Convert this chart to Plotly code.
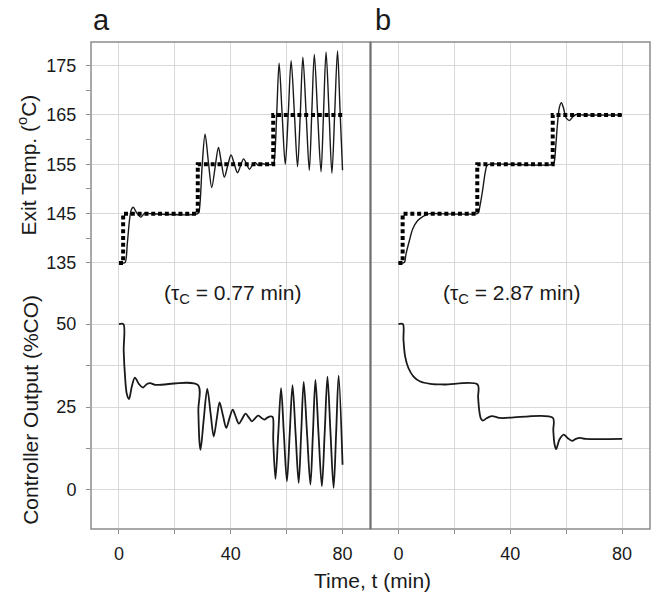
import plotly.graph_objects as go
from plotly.subplots import make_subplots

# ---------------- data ----------------
# set point (same in both panels)
t_sp = [0, 1.5, 1.5, 28.2, 28.2, 55.2, 55.2, 80]
sp = [135, 135, 145, 145, 155, 155, 165, 165]

# panel a, exit temperature (tau_c = 0.77 min)
t_pv_a = [0, 1.3, 2.2, 3.0, 3.9, 4.5, 5.1, 6.3, 7.8, 9.3, 11, 28.2,
          28.7, 29.8, 30.8, 32.0, 33.2, 34.4, 35.6, 36.6, 37.7, 38.9, 40.1,
          41.3, 42.4, 43.5, 44.6, 45.7, 46.7, 47.7, 48.7, 49.8, 51, 55.2,
          55.7, 56.5, 57.3, 58.4, 59.5, 60.6, 61.6, 62.8, 63.9, 64.9, 65.8,
          67.0, 68.1, 69.0, 69.9, 71.1, 72.3, 73.2, 74.1, 75.2, 76.2, 77.2,
          78.2, 79.1, 80]
pv_a = [135, 135, 135.1, 139.0, 144.3, 145.9, 146.3, 145.2, 144.3, 145.1, 145, 145,
        145.6, 155, 161.1, 155.5, 150.3, 154.4, 158.4, 155.5, 152.4, 154.7, 156.9,
        155.0, 153.3, 154.7, 156.1, 155.0, 154.0, 154.8, 155.4, 154.8, 155.1, 155,
        156.5, 166, 175.5, 165, 155.0, 165.5, 176.0, 165, 154.5, 165.5, 176.7,
        165, 153.8, 165.5, 177.3, 165, 153.5, 165.5, 177.8, 165, 153.2, 165.5,
        178.0, 166, 153.8]

# panel b, exit temperature (tau_c = 2.87 min)
t_pv_b = [0, 1.5, 2.2, 2.7, 3.9, 5.1, 6.9, 8.7, 11.1, 14, 28.2,
          28.6, 29.4, 30.1, 31.0, 31.6, 32.3, 40, 55.2,
          55.7, 56.3, 56.9, 57.6, 58.3, 59.0, 60.0, 61.2, 62.3, 63.6, 66, 80]
pv_b = [135, 135, 135.2, 136.8, 139.5, 141.9, 143.6, 144.4, 145, 145, 145,
        145.2, 147.3, 149.7, 153.2, 154.7, 155, 155, 155,
        155.4, 158.8, 163.2, 166.6, 167.5, 166.5, 164.4, 163.9, 164.6, 165.1, 165, 165]

# panel a, controller output
t_co_a = [0, 1.6, 1.7, 2.2, 2.8, 3.6, 4.6, 5.7, 7.1, 8.6, 9.9, 11.2, 13, 28.2,
          28.4, 28.8, 29.2, 30.3, 31.6, 32.8, 33.9, 35.0, 36.0, 37.2, 38.4,
          39.5, 40.7, 41.8, 42.9, 44.1, 45.3, 46.5, 47.6, 48.7, 49.8, 50.9,
          52.0, 53.1, 54.2, 55.0,
          55.2, 56.0, 57.0, 58.0, 59.0, 60.1, 61.1, 62.1, 63.2, 64.3, 65.2,
          66.1, 67.3, 68.5, 69.4, 70.3, 71.4, 72.6, 73.6, 74.6, 75.7, 76.8,
          77.7, 78.6, 80]
co_a = [50, 50, 42, 34, 29, 27.4, 31.2, 33.9, 32.0, 30.9, 31.9, 32.2, 31.7, 31.7,
        24, 14.5, 12.1, 21, 30.5, 23, 16.1, 21.5, 26.4, 22.5, 18.7,
        21.5, 24.2, 22, 20.0, 21.5, 23.0, 21.8, 20.7, 21.6, 22.4, 21.8,
        21.2, 21.8, 22.2, 22.0,
        15, 3.3, 17, 30.7, 17, 2.6, 17, 31.6, 17, 2.1, 17,
        32.6, 17, 1.6, 17, 33.2, 17, 1.1, 17, 34.2, 17, 0.6,
        17, 34.5, 7.6]

# panel b, controller output
t_co_b = [0, 1.6, 1.8, 2.4, 3.6, 5.4, 7.8, 11.4, 16.2, 28.3,
          28.5, 28.9, 29.5, 30.2, 31.5, 33, 34.1, 36.5, 40, 55.2,
          55.4, 55.8, 56.4, 57.6, 59.1, 60.6, 62.1, 63.5, 64.9, 67, 80]
co_b = [50, 50, 45.3, 40.2, 36.7, 34.2, 32.7, 32.0, 31.8, 31.8,
        28, 24, 21.5, 20.9, 21.6, 22.2, 22.2, 21.7, 21.8, 21.8,
        18, 14, 12.3, 15.2, 16.7, 15.6, 14.8, 15.4, 15.7, 15.4, 15.4]

x_ticks = [0, 40, 80]
x_minor = [20, 60]
temp_ticks = [135, 145, 155, 165, 175]
temp_minor = [140, 150, 160, 170]
co_ticks = [0, 25, 50]
co_minor = [12.5, 37.5]

FONT = 'Liberation Sans, Arial, sans-serif'
INK = '#1a1a1a'
GRID = '#d9d9d9'
FRAME = '#8c8c8c'

fig = make_subplots(rows=2, cols=2, horizontal_spacing=0, vertical_spacing=0)

# solid response lines then dotted set point on top
for col, (t, v) in enumerate([(t_pv_a, pv_a), (t_pv_b, pv_b)], start=1):
    fig.add_trace(go.Scatter(x=t, y=v, mode='lines',
                             line=dict(color=INK, width=1.4, shape='spline', smoothing=0.9)),
                  row=1, col=col)
    fig.add_trace(go.Scatter(x=t_sp, y=sp, mode='lines',
                             line=dict(color='black', width=4, dash='4px,2.8px')),
                  row=1, col=col)
for col, (t, v) in enumerate([(t_co_a, co_a), (t_co_b, co_b)], start=1):
    fig.add_trace(go.Scatter(x=t, y=v, mode='lines',
                             line=dict(color=INK, width=1.8, shape='spline', smoothing=0.9)),
                  row=2, col=col)

xsplit = 0.5
ysplit = 0.4825
tickfont = dict(family=FONT, size=18, color=INK)

for r in (1, 2):
    for c in (1, 2):
        fig.update_xaxes(range=[-10, 90], tickvals=x_ticks,
                         showgrid=True, gridcolor=GRID, gridwidth=1, zeroline=False,
                         showline=False, showticklabels=(r == 2),
                         ticks='outside' if r == 2 else '', ticklen=4, tickcolor=FRAME,
                         minor=dict(tickvals=x_minor, showgrid=True, gridcolor=GRID, gridwidth=1,
                                    ticks='outside' if r == 2 else '', ticklen=4, tickcolor=FRAME),
                         tickfont=tickfont, ticklabelstandoff=4,
                         domain=[0, xsplit] if c == 1 else [xsplit, 1],
                         row=r, col=c)
        if r == 1:
            fig.update_yaxes(range=[128.7, 179.8], tickvals=temp_ticks,
                             domain=[ysplit, 1], row=r, col=c,
                             minor=dict(tickvals=temp_minor, ticks='outside' if c == 1 else '',
                                        ticklen=4, tickcolor=FRAME, showgrid=False))
        else:
            fig.update_yaxes(range=[-11.8, 59.1], tickvals=co_ticks,
                             domain=[0, ysplit], row=r, col=c,
                             minor=dict(tickvals=co_minor, showgrid=True, gridcolor=GRID, gridwidth=1,
                                        ticks='outside' if c == 1 else '', ticklen=4, tickcolor=FRAME))
        fig.update_yaxes(showgrid=True, gridcolor=GRID, gridwidth=1, zeroline=False,
                         showline=False, showticklabels=(c == 1),
                         ticks='outside' if c == 1 else '', ticklen=4, tickcolor=FRAME,
                         tickfont=tickfont, ticklabelstandoff=6, row=r, col=c)

# frames of the two columns
fig.add_shape(type='rect', xref='paper', yref='paper', x0=0, x1=xsplit, y0=0, y1=1,
              line=dict(color=FRAME, width=1.5))
fig.add_shape(type='rect', xref='paper', yref='paper', x0=xsplit, x1=1, y0=0, y1=1,
              line=dict(color=FRAME, width=1.5))
fig.add_shape(type='line', xref='paper', yref='paper', x0=xsplit, x1=xsplit, y0=0, y1=1,
              line=dict(color='#6e6e6e', width=1.8))

txt = dict(family=FONT, size=21, color=INK)
mid = dict(xanchor='center', yanchor='middle', showarrow=False, font=txt)
fig.add_annotation(text='Exit Temp. (<sup>o</sup>C)', x=-0.114, y=0.747, xref='paper', yref='paper',
                   textangle=-90, **mid)
fig.add_annotation(text='Controller Output (%CO)', x=-0.108, y=0.244, xref='paper', yref='paper',
                   textangle=-90, **mid)
fig.add_annotation(text='Time, t (min)', x=0.504, y=-0.105, xref='paper', yref='paper', **mid)
fig.add_annotation(text='(τ<sub>C</sub> = 0.77 min)', x=40.5, y=ysplit, xref='x3', yref='paper', **mid)
fig.add_annotation(text='(τ<sub>C</sub> = 2.87 min)', x=40.5, y=ysplit, xref='x4', yref='paper', **mid)
letter = dict(xref='paper', yref='paper', xanchor='left', yanchor='middle', showarrow=False,
              font=dict(family=FONT, size=29, color=INK))
fig.add_annotation(text='a', x=0.0, y=1.045, **letter)
fig.add_annotation(text='b', x=0.505, y=1.045, **letter)

fig.update_layout(width=659, height=597, showlegend=False,
                  margin=dict(l=91, r=9, t=42, b=68),
                  paper_bgcolor='white', plot_bgcolor='white',
                  font=dict(family=FONT, color=INK))

fig.write_html("out.html", config={'displayModeBar': False},
               post_script="document.body.style.margin='0';")
